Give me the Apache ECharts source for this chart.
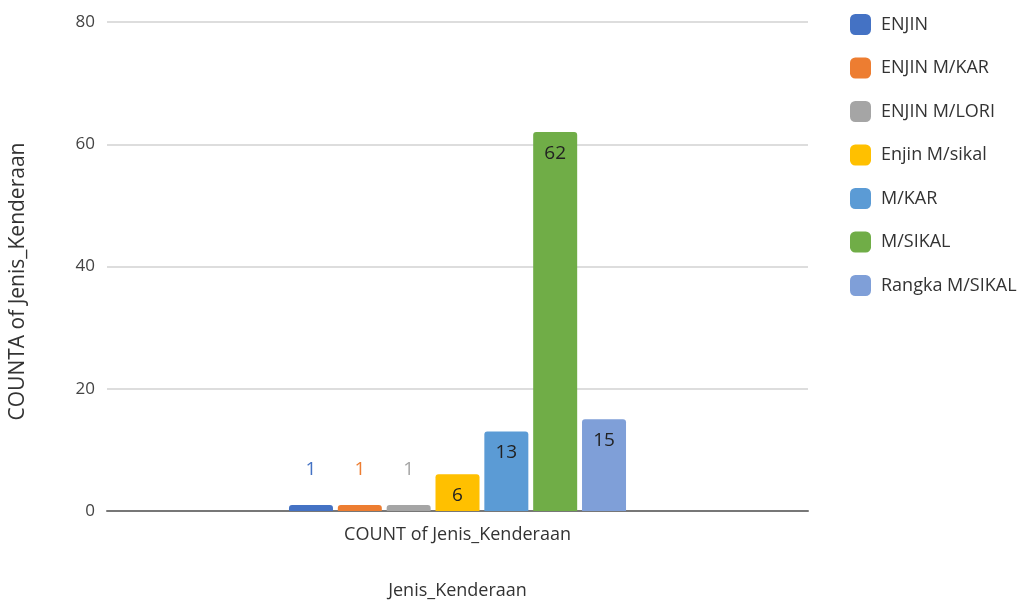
<!DOCTYPE html>
<html>
<head>
<meta charset="utf-8">
<script src="https://cdn.jsdelivr.net/npm/echarts@6/dist/echarts.min.js"></script>
<style>
  html, body { margin: 0; padding: 0; background: #fff; }
  #chart { width: 1028px; height: 604px; }
</style>
</head>
<body>
<div id="chart"></div>
<script>
// Vehicle type counts, one bar per type in a single category
const categories = ['COUNT of Jenis_Kenderaan'];
const seriesNames = ['ENJIN', 'ENJIN M/KAR', 'ENJIN M/LORI', 'Enjin M/sikal', 'M/KAR', 'M/SIKAL', 'Rangka M/SIKAL'];
const seriesValues = [1, 1, 1, 6, 13, 62, 15];
const seriesColors = ['#4472c4', '#ed7d31', '#a5a5a5', '#ffc000', '#5b9bd5', '#70ad47', '#7f9fd8'];
const yTicks = [0, 20, 40, 60, 80];

const FONT = '"Open Sans", "Noto Sans", sans-serif';

const series = seriesNames.map((name, i) => {
  const v = seriesValues[i];
  const small = v < 4;
  return {
    name: name,
    type: 'bar',
    data: [v],
    barWidth: 44,
    barGap: '11%',
    itemStyle: { color: seriesColors[i], borderRadius: [3, 3, 0, 0] },
    label: {
      show: true,
      position: small ? 'top' : 'insideTop',
      distance: small ? 26 : 12,
      color: small ? seriesColors[i] : '#222',
      fontFamily: FONT,
      fontSize: 19
    }
  };
});

const chart = echarts.init(document.getElementById('chart'));
chart.setOption({
  animation: false,
  grid: { left: 107, right: 220, top: 22, bottom: 93, containLabel: false, outerBoundsMode: 'none' },
  legend: {
    orient: 'vertical',
    left: 845,
    top: 9,
    itemWidth: 21,
    itemHeight: 21,
    itemGap: 22.5,
    icon: 'roundRect',
    textStyle: { fontFamily: FONT, fontSize: 18, color: '#333', padding: [0, 0, 0, 5] },
    data: seriesNames
  },
  xAxis: {
    type: 'category',
    data: categories,
    name: 'Jenis_Kenderaan',
    nameLocation: 'middle',
    nameGap: 71,
    nameTextStyle: { fontFamily: FONT, fontSize: 18, color: '#333' },
    axisLine: { lineStyle: { color: '#777', width: 2 } },
    axisTick: { show: false },
    axisLabel: { fontFamily: FONT, fontSize: 18, color: '#333', margin: 15 }
  },
  yAxis: {
    type: 'value',
    min: yTicks[0],
    max: yTicks[yTicks.length - 1],
    interval: 20,
    name: 'COUNTA of Jenis_Kenderaan',
    nameLocation: 'middle',
    nameGap: 78,
    nameTextStyle: { fontFamily: FONT, fontSize: 21, color: '#333', padding: [0, 30, 0, 0] },
    axisLine: { show: false },
    axisTick: { show: false },
    axisLabel: { fontFamily: FONT, fontSize: 17, color: '#444', margin: 12 },
    splitLine: { lineStyle: { color: '#ddd', width: 2 } }
  },
  series: series
});
</script>
</body>
</html>
